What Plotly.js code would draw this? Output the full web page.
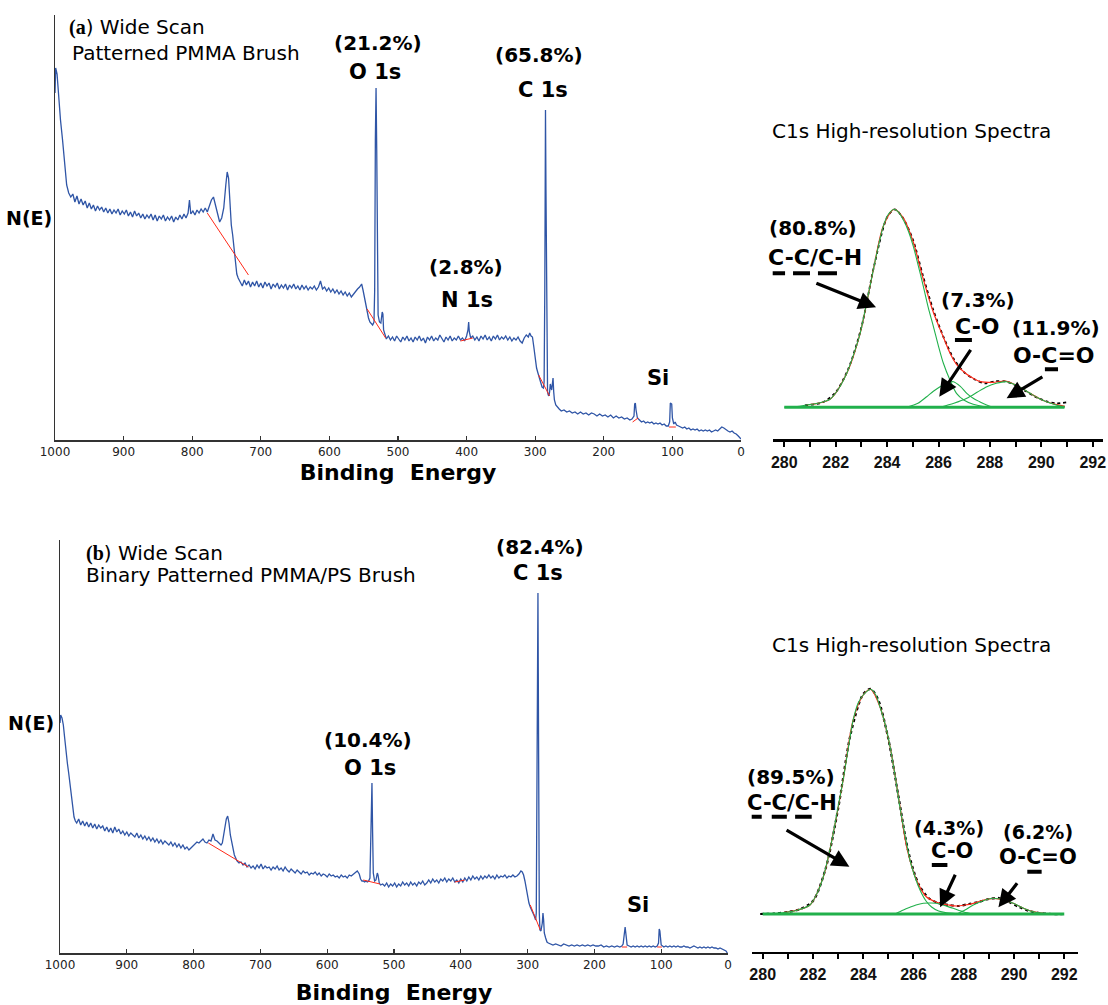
<!DOCTYPE html>
<html><head><meta charset="utf-8">
<script src="https://cdn.plot.ly/plotly-3.0.1.min.js"></script>
<style>html,body{margin:0;padding:0;background:#fff}#chart{width:1108px;height:1005px}</style>
</head><body><div id="chart"></div>
<script>
// ---------- (a) wide scan, patterned PMMA brush ----------
const wideA_BE = [
1000,999,997,995,992,989,986,983,980,977,
974,971,968,965,962,959,956,953,950,947,
944,941,938,935,932,929,926,923,920,917,
914,911,908,905,902,899,896,893,890,887,
884,881,878,875,872,869,866,863,860,857,
854,851,848,845,842,839,836,833,830,827,
824,821,818,815,812,809,806,804,802,799,
796,793,790,787,784,781,778,775,772,769,
766,763,760,757,754,751,749,747,745,743,
741,739,737,735,733,730,727,724,721,718,
715,712,709,706,703,700,697,694,691,688,
685,682,679,676,673,670,667,664,661,658,
655,652,649,646,643,640,637,634,631,628,
625,622,619,616,613,610,607,604,601,598,
595,592,589,586,583,580,577,574,571,568,
565,562,559,556,553,551,549,547,545,543,
541,539,537,535,534,533,532,531,530,529,
527,525,523,522,521,519,517,514,511,508,
505,502,499,496,493,490,487,484,481,478,
475,472,469,466,463,460,457,454,451,448,
445,442,439,436,433,430,427,424,421,418,
415,412,409,406,403,400,398,397,396,394,
391,388,385,382,379,376,373,370,367,364,
361,358,355,352,349,346,343,340,337,334,
331,328,325,322,319,316,313,310,308,306,
304,302,300,298,296,294,292,290,288,287,
286,285,284.3,283.5,283,282,281,280,279,278,
276,274,273,272,270,268,265,262,258,254,
250,246,242,238,234,230,226,222,218,214,
210,206,202,198,194,190,186,182,178,174,
170,166,162,159,156,155,154,153,151,148,
145,142,139,136,133,130,127,124,121,118,
115,112,109,106,104,103,101,100,98,96,
94,91,88,85,82,79,76,73,70,67,
64,61,58,55,52,49,46,43,40,37,
34,31,28,25,22,19,16,13,10,7,
4,1,0];
const wideA_N = [
347,372,366,345,320,300,275,255,247,243,
246,238,244,236,241,235,239,232,237,231,
235,229,234,230,233,228,232,227,231,226,
230,227,231,225,229,226,230,224,228,223,
229,224,227,222,226,221,225,222,226,220,
225,219,224,221,225,219,223,220,224,218,
223,220,225,221,226,222,227,240,226,229,
225,230,227,231,228,232,228,234,240,243,
235,228,218,222,232,255,268,262,235,215,
205,193,178,166,162,158,154,160,155,159,
153,158,154,159,153,157,152,158,154,157,
151,156,153,157,151,155,152,156,150,155,
152,156,151,154,150,155,151,154,150,153,
151,154,150,153,159,151,153,149,152,148,
151,147,150,146,149,145,148,144,147,143,
146,149,151,153,156,150,142,135,130,122,
118,116,115,118,150,300,352,290,180,125,
118,117,128,126,110,104,101,104,100,103,
99,104,101,98,103,100,104,99,102,98,
103,100,104,99,102,97,103,100,104,99,
102,100,105,101,98,103,100,104,99,102,
100,104,100,102,99,104,110,118,108,102,
104,100,103,99,104,101,105,100,103,99,
104,101,105,100,103,101,104,100,103,99,
102,100,103,99,97,102,105,103,107,104,
103,93,82,72,67,62,57,53,52,58,
150,330,250,120,60,48,45,44,48,56,
50,62,48,40,35,33,31,29,30,28,
29,27,28,26,28,26,27,25,27,26,
24,26,24,25,23,25,22,24,22,23,
21,22,20,21,24,36,37,30,22,20,
18,19,17,18,17,18,16,17,16,17,
15,16,14,14,18,37,36,22,16,18,
15,14,13,12,13,11,12,10,11,10,
11,9,10,9,10,9,10,8,9,10,
9,11,13,12,10,9,8,9,7,6,
4,2,1];
const wideA_bgBE = [778,718,null,545,518,null,409,391,null,295,279,null,158,150,null,105,95];
const wideA_bgN  = [227,165,null,131,102,null,99,102,null,65,44,null,18,22,null,13,13];
const wideA_peaks = ['O 1s','C 1s','N 1s'];
const wideA_pct = [21.2, 65.8, 2.8];

// ---------- (a) C1s high-resolution ----------
const hiA_CC_x = [280,280.5,280.87,281.3,281.78,282.1,282.43,282.7,282.95,283.2,283.46,283.65,283.85,284.05,284.27,284.45,284.64,284.83,285.02,285.2,285.41,285.6,285.8,286.0,286.19,286.45,286.7,287.0,287.35,287.7,288.13];
const hiA_CC_y = [0,0.8,2.3,4,8,18,34,53,74,104,137,160,181,193,198,195,187,176,161,143,121,100,81,61,44,27,14,7,3,1,0];
const hiA_CO_x = [284.76,285.2,285.54,285.8,286.06,286.3,286.58,286.85,287.1,287.35,287.6,287.85,288.1,288.5];
const hiA_CO_y = [0,4,10.6,16,20.6,24,25.6,21,14,9,5.6,2.5,0.3,0];
const hiA_OCO_x = [286.06,286.6,287.1,287.5,287.88,288.25,288.65,289.1,289.56,289.9,290.2,290.55,290.92];
const hiA_OCO_y = [0,4,9,15,20.6,24,25.6,21,14,9,5.6,2.5,0];
const hiA_fit_x = [280.87,281.78,282.43,282.95,283.46,283.85,284.27,284.64,285.02,285.41,285.8,286.19,286.45,286.7,287.1,287.35,287.6,288.1,288.65,289.1,289.56,289.9,290.2,290.55,290.92];
const hiA_fit_y = [2.3,8,34,74,137,181,198,189,165,128,95,70,54,43,33,29,26,25,26,21,14,9,5.6,3,1];
const hiA_raw_x = [280.8,281.5,282,282.5,283,283.5,284,284.3,284.6,285,285.4,285.8,286.2,286.6,287,287.4,287.8,288.2,288.6,289,289.4,289.8,290.2,290.6,291];
const hiA_raw_y = [2,5,15,39,80,142,190,198,190,168,131,97,70,48,35,28,24,26,26,22,16,10,6,4,5];
const hiA_base_x = [280,290.9];
const hiA_base_y = [0,0];
const hiA_pct = [80.8, 7.3, 11.9];

// ---------- (b) wide scan, binary patterned PMMA/PS brush ----------
const wideB_BE = [
1000,999,997,995,993,991,989,987,985,983,
981,979,977,975,972,969,966,963,960,957,
954,951,948,945,942,939,936,933,930,927,
924,921,918,915,912,909,906,903,900,897,
894,891,888,885,882,879,876,873,870,867,
864,861,858,855,852,849,846,843,840,837,
834,831,828,825,822,819,816,813,810,807,
804,801,798,795,792,789,786,783,780,777,
774,771,768,765,762,759,757,755,753,751,
749,747,745,743,741,739,737,735,732,729,
726,723,720,717,714,711,708,705,702,699,
696,693,690,687,684,681,678,675,672,669,
666,663,660,657,654,651,648,645,642,639,
636,633,630,627,624,621,618,615,612,609,
606,603,600,597,594,591,588,585,582,579,
576,573,570,567,564,561,558,555,552,550,
548,546,544,542,540,538,536,535,534,533,
532,531,529,527,525,524,522,520,517,514,
511,508,505,502,499,496,493,490,487,484,
481,478,475,472,469,466,463,460,457,454,
451,448,445,442,439,436,433,430,427,424,
421,418,415,412,409,406,403,400,397,394,
391,388,385,382,379,376,373,370,367,364,
361,358,355,352,349,346,343,340,337,334,
331,328,325,322,319,316,313,310,308,306,
304,302,300,298,296,294,292,290,288,287,
286,285,284.5,284,283.3,282.5,281.5,280,278,277,
276,275,273,271,269,266,262,258,254,250,
246,242,238,234,230,226,222,218,214,210,
206,202,198,194,190,186,182,178,174,170,
166,162,159,157,155,154,153,151,148,145,
142,139,136,133,130,127,124,121,118,115,
112,109,106,104,103,102,100,98,96,93,
90,87,84,81,78,75,72,69,66,63,
60,57,54,51,48,45,42,39,36,33,
30,27,24,21,18,15,12,9,6,3,
1];
const wideB_N = [
230,238,235,228,215,200,190,180,168,155,
143,136,132,130,134,128,132,127,131,126,
130,125,129,124,128,125,127,122,126,121,
125,120,126,121,124,119,122,118,121,117,
120,118,116,120,115,118,114,117,113,116,
112,115,111,114,110,113,109,112,110,108,
111,107,110,106,109,105,108,104,106,103,
105,107,109,111,110,112,114,111,110,113,
112,119,113,112,110,108,110,118,128,134,
137,130,118,110,103,98,95,92,90,91,
88,90,86,88,85,87,84,88,85,89,
84,87,85,86,83,86,84,87,83,85,
82,86,83,81,84,82,80,83,81,79,
82,80,81,78,80,79,81,78,80,77,
79,78,76,79,77,78,76,77,75,78,
76,77,75,78,77,79,80,82,79,74,
72,72,71,72,71,72,75,100,140,170,
120,80,72,73,80,78,70,68,69,67,
70,66,69,67,70,66,69,67,71,68,
70,67,71,68,70,67,71,69,72,68,
70,73,70,74,71,73,70,74,72,75,
71,74,72,75,71,73,70,74,71,75,
72,76,73,77,74,76,73,77,74,77,
75,78,75,77,74,78,75,77,76,78,
75,77,76,78,76,77,79,82,81,78,
72,64,56,50,46,42,40,37,33,40,
150,300,360,280,130,40,23,22,30,40,
33,20,15,11,10,9,8,9,8,7,
9,8,7,8,7,8,7,8,7,8,
7,8,7,7,8,6,7,6,7,6,
7,6,7,9,24,26,20,8,7,6,
7,6,7,6,7,6,7,6,7,6,
7,6,7,10,24,22,8,7,6,7,
6,7,6,7,6,7,6,6,7,6,
6,5,6,7,6,5,6,5,6,5,
6,5,6,5,5,4,5,4,3,2,
0];
const wideB_bgBE = [778,718,null,546,521,null,409,394,null,296,281,null,159,151,null,106,99];
const wideB_bgN  = [110,86,null,73,69,null,71,73,null,48,23,null,6,6,null,6,6];
const wideB_peaks = ['O 1s','C 1s'];
const wideB_pct = [10.4, 82.4];

// ---------- (b) C1s high-resolution ----------
const hiB_CC_x = [280,280.82,281.4,281.88,282.15,282.41,282.61,282.81,283.0,283.2,283.4,283.6,283.8,284.0,284.3,284.5,284.67,284.87,285.07,285.27,285.46,285.66,285.86,286.06,286.26,286.5,286.72,287.0,287.32,288];
const hiB_CC_y = [0,1.3,4,9,20,37,57,81,107,134,165,194,211,219,224.7,219,207,190,167,138,107,79,54,37,24,13,7,3,1.3,0];
const hiB_CO_x = [285.27,285.6,285.86,286.1,286.39,286.7,287.05,287.3,287.58,288.0,288.38];
const hiB_CO_y = [0,4,6.7,9,10.7,11,10,8,5.7,2,0];
const hiB_OCO_x = [287.72,288.05,288.38,288.8,289.18,289.6,289.97,290.4,290.77,291.3];
const hiB_OCO_y = [0,4,9,13.5,15.7,14,10.7,5.5,2.3,0];
const hiB_fit_x = [280.82,281.88,282.41,282.81,283.2,283.6,284.0,284.3,284.67,285.07,285.46,285.73,286.12,286.52,286.8,287.05,287.4,287.72,288.05,288.38,288.8,289.18,289.6,289.97,290.4,290.77,291.3];
const hiB_fit_y = [1.3,9,37,81,134,194,219,224.7,207,167,108,67,34,17,13,10.7,9,8,9,10.7,14,15.7,14,10.7,5.5,2.3,0];
const hiB_raw_x = [279.9,280.5,281,281.5,282,282.5,283,283.5,284,284.3,284.6,285,285.4,285.8,286.2,286.6,287,287.4,287.8,288.2,288.6,289,289.4,289.8,290.2,290.6,291,291.5,292];
const hiB_raw_y = [0,0.5,2,5,13,45,105,180,220,225,214,175,118,62,30,16,11,9,8,10,12,15,16,12,7,3,1,0,0];
const hiB_base_x = [280,292];
const hiB_base_y = [0,0];
const hiB_pct = [89.5, 4.3, 6.2];

const hiNames = ['C-C/C-H','C-O','O-C=O'];

// ---------- drawing ----------
const W = 1108, H = 1005;
const PX = v => v / W, PY = v => 1 - v / H;
const BLUE = '#2f55a6', RED = '#ff2a1a', GREEN = '#21b04b';
const FONT = 'DejaVu Sans';

function line(x, y, xa, ya, color, width, extra) {
  return Object.assign({type:'scatter', mode:'lines', x:x, y:y, xaxis:xa, yaxis:ya,
    line:{color:color, width:width}, hoverinfo:'skip', showlegend:false, connectgaps:false}, extra||{});
}
const sp = {shape:'spline', smoothing:0.8};
const sl = (c, w, d) => ({line: Object.assign({color:c, width:w}, d ? {dash:d} : {}, sp)});

const traces = [
  line(wideA_BE, wideA_N, 'x', 'y', BLUE, 1.3),
  line(wideA_bgBE, wideA_bgN, 'x', 'y', RED, 1),
  line(hiA_raw_x, hiA_raw_y, 'x2', 'y2', '#000', 2, sl('#000', 1.8, 'dot')),
  line(hiA_fit_x, hiA_fit_y, 'x2', 'y2', RED, 1.2, sl(RED, 1.2)),
  line(hiA_CC_x, hiA_CC_y, 'x2', 'y2', GREEN, 1.1, sl(GREEN, 1.1)),
  line(hiA_CO_x, hiA_CO_y, 'x2', 'y2', GREEN, 1.1, sl(GREEN, 1.1)),
  line(hiA_OCO_x, hiA_OCO_y, 'x2', 'y2', GREEN, 1.1, sl(GREEN, 1.1)),
  line(hiA_base_x, hiA_base_y, 'x2', 'y2', GREEN, 3),
  line(wideB_BE, wideB_N, 'x3', 'y3', BLUE, 1.3),
  line(wideB_bgBE, wideB_bgN, 'x3', 'y3', RED, 1),
  line(hiB_raw_x, hiB_raw_y, 'x4', 'y4', '#000', 2, sl('#000', 2.2, 'dot')),
  line(hiB_fit_x, hiB_fit_y, 'x4', 'y4', RED, 1.2, sl(RED, 1.2)),
  line(hiB_CC_x, hiB_CC_y, 'x4', 'y4', GREEN, 1.1, sl(GREEN, 1.1)),
  line(hiB_CO_x, hiB_CO_y, 'x4', 'y4', GREEN, 1.1, sl(GREEN, 1.1)),
  line(hiB_OCO_x, hiB_OCO_y, 'x4', 'y4', GREEN, 1.1, sl(GREEN, 1.1)),
  line(hiB_base_x, hiB_base_y, 'x4', 'y4', GREEN, 3)
];

const wideX = (dom, anchor, standoff) => ({
  domain: dom, anchor: anchor, range: [1000, 0], tick0: 0, dtick: 100,
  ticks: 'inside', ticklen: 4, tickwidth: 1.2, tickcolor: '#333',
  showline: true, linecolor: '#333', linewidth: 1.6, showgrid: false, zeroline: false,
  tickfont: {family: FONT, size: 12, color: '#222'},
  title: {text: '<b>Binding\u00a0 Energy</b>', font: {family: FONT, size: 22, color: '#000'}, standoff: standoff}
});
const wideY = (dom, anchor, top) => ({
  domain: dom, anchor: anchor, range: [0, top], showline: true, linecolor: '#333', linewidth: 1.4,
  ticks: '', showticklabels: false, showgrid: false, zeroline: false
});
const hiX = (dom, anchor, rng) => ({
  domain: dom, anchor: anchor, range: rng, tick0: 280, dtick: 2,
  ticks: 'outside', ticklen: 5, tickwidth: 2, tickcolor: '#000',
  minor: {dtick: 1, ticks: 'outside', ticklen: 5, tickwidth: 2, tickcolor: '#000'},
  showline: true, linecolor: '#000', linewidth: 2.5, showgrid: false, zeroline: false,
  ticklabelstandoff: 2,
  tickfont: {family: 'Liberation Sans', size: 16, color: '#111', weight: 'bold'}
});
const hiY = (dom, anchor, rng) => ({domain: dom, anchor: anchor, range: rng, visible: false, showgrid: false, zeroline: false});

function txt(x, y, text, size, xanchor) {
  return {xref:'paper', yref:'paper', x:PX(x), y:PY(y), text:text, showarrow:false,
    xanchor: xanchor || 'center', yanchor:'middle', borderpad:0, font:{family:FONT, size:size, color:'#000'}};
}
function dtxt(xa, ya, x, y, text, size) {
  return {xref:xa, yref:ya, x:x, y:y, text:text, showarrow:false, xanchor:'center', yanchor:'middle',
    borderpad:0, font:{family:FONT, size:size, color:'#000'}};
}
function arrow(xa, ya, tx, ty, hx, hy) {
  return {xref:xa, yref:ya, axref:xa, ayref:ya, x:hx, y:hy, ax:tx, ay:ty, text:'', showarrow:true,
    arrowhead:2, arrowsize:1.1, arrowwidth:3.2, arrowcolor:'#000', standoff:0, startstandoff:0};
}
function ul(xa, ya, x0, x1, y) {
  return {type:'line', xref:xa, yref:ya, x0:x0, x1:x1, y0:y, y1:y, line:{color:'#000', width:4}};
}
const pct = v => '<b>(' + v.toFixed(1) + '%)</b>';
const panelTitle = L => '<span style="font-family:Liberation Serif"><b>(' + L + '</b></span>) Wide Scan';

const annotations = [
  // panel (a) wide
  txt(68, 27, panelTitle('a'), 20, 'left'),
  txt(71, 53, 'Patterned PMMA Brush', 20, 'left'),
  txt(53, 218, '<b>N(E)</b>', 19, 'right'),
  txt(378, 43, pct(wideA_pct[0]), 20), txt(375, 72, '<b>' + wideA_peaks[0] + '</b>', 21),
  txt(539, 55, pct(wideA_pct[1]), 20), txt(543, 90, '<b>' + wideA_peaks[1] + '</b>', 21),
  txt(466, 267, pct(wideA_pct[2]), 20), txt(467, 300, '<b>' + wideA_peaks[2] + '</b>', 21),
  txt(658, 378, '<b>Si</b>', 21),
  // panel (a) high-res
  txt(911, 131, 'C1s High-resolution Spectra', 20),
  dtxt('x2','y2', 281.12, 179, pct(hiA_pct[0]), 20),
  dtxt('x2','y2', 281.19, 150, '<b>' + hiNames[0] + '</b>', 22),
  dtxt('x2','y2', 287.54, 107, pct(hiA_pct[1]), 20),
  dtxt('x2','y2', 287.48, 80.6, '<b>' + hiNames[1] + '</b>', 22),
  dtxt('x2','y2', 290.57, 79, pct(hiA_pct[2]), 20),
  dtxt('x2','y2', 290.49, 52.3, '<b>' + hiNames[2] + '</b>', 22),
  arrow('x2','y2', 281.19, 124.6, 283.57, 100),
  arrow('x2','y2', 287.29, 59, 286.03, 10.6),
  arrow('x2','y2', 290.1, 31.3, 288.65, 9),
  // panel (b) wide
  txt(85, 553, panelTitle('b'), 20, 'left'),
  txt(85, 575, 'Binary Patterned PMMA/PS Brush', 20, 'left'),
  txt(55, 723, '<b>N(E)</b>', 19, 'right'),
  txt(368, 740, pct(wideB_pct[0]), 20), txt(370, 768, '<b>' + wideB_peaks[0] + '</b>', 21),
  txt(540, 547, pct(wideB_pct[1]), 20), txt(538, 573, '<b>' + wideB_peaks[1] + '</b>', 21),
  txt(638, 905, '<b>Si</b>', 21),
  // panel (b) high-res
  txt(911, 645, 'C1s High-resolution Spectra', 20),
  dtxt('x4','y4', 281.13, 137.3, pct(hiB_pct[0]), 20),
  dtxt('x4','y4', 281.17, 111.3, '<b>' + hiNames[0] + '</b>', 21),
  dtxt('x4','y4', 287.4, 86, pct(hiB_pct[1]), 19),
  dtxt('x4','y4', 287.55, 63, '<b>' + hiNames[1] + '</b>', 21),
  dtxt('x4','y4', 290.96, 82, pct(hiB_pct[2]), 19),
  dtxt('x4','y4', 290.96, 56.7, '<b>' + hiNames[2] + '</b>', 21),
  arrow('x4','y4', 280.89, 84.7, 283.45, 47.3),
  arrow('x4','y4', 287.69, 40.7, 287.06, 6.7),
  arrow('x4','y4', 290.17, 32.3, 289.38, 6.7)
];

const shapes = [
  ul('x2','y2', 279.37, 280.03, 134), ul('x2','y2', 280.34, 281.0, 134), ul('x2','y2', 281.31, 282.05, 134),
  ul('x2','y2', 286.64, 287.30, 67.3),
  ul('x2','y2', 290.14, 290.65, 38),
  ul('x4','y4', 279.3, 279.96, 97.3), ul('x4','y4', 280.36, 280.96, 97.3), ul('x4','y4', 281.29, 281.95, 97.3),
  ul('x4','y4', 286.73, 287.35, 49),
  ul('x4','y4', 290.53, 291.1, 42.3)
];

const layout = {
  width: W, height: H, margin: {l:0, r:0, t:0, b:0},
  paper_bgcolor: '#fff', plot_bgcolor: '#fff', showlegend: false, hovermode: false,
  font: {family: FONT, color: '#000'},
  xaxis:  wideX([PX(55), PX(741)], 'y', 6),
  yaxis:  wideY([PY(440), PY(15)], 'x', 425),
  xaxis2: hiX([PX(772.7), PX(1103)], 'y2', [279.549, 292.40]),
  yaxis2: hiY([PY(439.3), PY(207.3)], 'x2', [-32, 200]),
  xaxis3: wideX([PX(60), PX(728)], 'y3', 13),
  yaxis3: wideY([PY(953), PY(540)], 'x3', 413),
  xaxis4: hiX([PX(751.7), PX(1078.3)], 'y4', [279.562, 292.559]),
  yaxis4: hiY([PY(951.7), PY(684)], 'x4', [-37.7, 230]),
  annotations: annotations,
  shapes: shapes
};

Plotly.newPlot('chart', traces, layout, {displayModeBar: false, staticPlot: true});
</script>
</body></html>
